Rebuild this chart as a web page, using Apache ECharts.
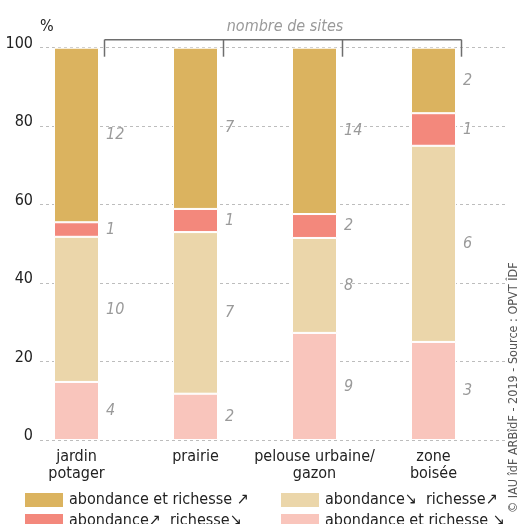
<!DOCTYPE html>
<html>
<head>
<meta charset="utf-8">
<script src="https://cdn.jsdelivr.net/npm/echarts@6/dist/echarts.min.js"></script>
<style>
html,body{margin:0;padding:0;background:#fff;}
#c{width:521px;height:524px;}
</style>
</head>
<body>
<div id="c"></div>
<script>
// categories
var categories = ['jardin\npotager', 'prairie', 'pelouse urbaine/\ngazon', 'zone\nboisée'];
var yTicks = [0, 20, 40, 60, 80, 100];

// series names (bottom to top of stack)
var nameBothDown = 'abondance et richesse \u2198';
var nameAbDownRichUp = 'abondance\u2198  richesse\u2197';
var nameAbUpRichDown = 'abondance\u2197  richesse\u2198';
var nameBothUp = 'abondance et richesse \u2197';

// percentage shares
var pctBothDown = [14.8, 11.8, 27.3, 25.0];
var pctAbDownRichUp = [37.0, 41.2, 24.2, 50.0];
var pctAbUpRichDown = [3.7, 5.9, 6.1, 8.3];
var pctBothUp = [44.5, 41.1, 42.4, 16.7];

// number of sites (labels)
var nBothDown = [4, 2, 9, 3];
var nAbDownRichUp = [10, 7, 8, 6];
var nAbUpRichDown = [1, 1, 2, 1];
var nBothUp = [12, 7, 14, 2];

var FONT = "'DejaVu Sans Condensed', 'Roboto', sans-serif";

var colors = {
  bothDown: '#F9C5BC',
  abDownRichUp: '#EBD6AA',
  abUpRichDown: '#F3887C',
  bothUp: '#DBB35F'
};

function mkSeries(name, data, counts, color) {
  return {
    name: name,
    type: 'bar',
    stack: 'all',
    xAxisIndex: 0,
    yAxisIndex: 0,
    barWidth: 45,
    data: data,
    itemStyle: { color: color, borderColor: '#ffffff', borderWidth: 1 },
    label: {
      show: true,
      position: 'right',
      distance: 7,
      formatter: function (p) { return String(counts[p.dataIndex]); },
      color: '#9a9a9a',
      fontStyle: 'italic',
      fontSize: 16,
      fontFamily: FONT
    },
    emphasis: { disabled: true },
    animation: false
  };
}

function mkLegend(name, left, top) {
  return {
    data: [name],
    orient: 'horizontal', left: left, top: top,
    padding: 0,
    itemWidth: 38, itemHeight: 14, itemGap: 0,
    icon: 'rect', selectedMode: false,
    itemStyle: { borderWidth: 0 },
    textStyle: { color: '#222', fontSize: 16, fontFamily: FONT, lineHeight: 14, padding: [0, 0, 0, 1] }
  };
}

var chart = echarts.init(document.getElementById('c'), null, { renderer: 'canvas' });

var option = {
  animation: false,
  backgroundColor: '#ffffff',
  textStyle: { fontFamily: FONT },
  grid: [
    { left: 17, width: 476, top: 47.7, bottom: 84, containLabel: false },
    { left: 40, right: 13, top: 47.7, bottom: 84, containLabel: false }
  ],
  xAxis: [
    {
      type: 'category', gridIndex: 0, data: categories,
      axisLine: { show: false }, axisTick: { show: false },
      axisLabel: { color: '#222', fontSize: 16, fontFamily: FONT, margin: 8, lineHeight: 17, interval: 0 }
    },
    { type: 'value', gridIndex: 1, show: false, min: 0, max: 1 }
  ],
  yAxis: [
    { type: 'value', gridIndex: 0, min: 0, max: 100, show: false, splitLine: { show: false } },
    {
      type: 'value', gridIndex: 1, min: 0, max: 100, interval: 20,
      name: '%', nameLocation: 'end', nameGap: 13,
      nameTextStyle: { color: '#222', fontSize: 16, fontFamily: FONT, align: 'left' },
      axisLine: { show: false }, axisTick: { show: false },
      axisLabel: {
        color: '#222', fontSize: 16, fontFamily: FONT, margin: 7,
        verticalAlign: 'bottom', lineHeight: 8,
        formatter: function (v) { return yTicks.indexOf(v) >= 0 ? String(v) : ''; }
      },
      splitLine: { show: true, lineStyle: { color: '#bdbdbd', type: [3, 3], width: 1 } }
    }
  ],
  legend: [
    mkLegend(nameBothUp, 25, 492),
    mkLegend(nameAbDownRichUp, 281, 492),
    mkLegend(nameAbUpRichDown, 25, 513),
    mkLegend(nameBothDown, 281, 513)
  ],
  series: [
    mkSeries(nameBothDown, pctBothDown, nBothDown, colors.bothDown),
    mkSeries(nameAbDownRichUp, pctAbDownRichUp, nAbDownRichUp, colors.abDownRichUp),
    mkSeries(nameAbUpRichDown, pctAbUpRichDown, nAbUpRichDown, colors.abUpRichDown),
    mkSeries(nameBothUp, pctBothUp, nBothUp, colors.bothUp),
    { type: 'line', xAxisIndex: 1, yAxisIndex: 1, data: [], silent: true }
  ]
};

chart.setOption(option);

// bracket "nombre de sites" positioned from the bar scale
var top100 = chart.convertToPixel({ gridIndex: 0 }, [0, 100])[1];
var bracketY = top100 - 8;
var tickBottom = top100 + 9;
var xs = categories.map(function (c, i) {
  return chart.convertToPixel({ gridIndex: 0 }, [i, 100])[0] + 22.5 + 5.5;
});
var els = [];
els.push({
  type: 'line', silent: true,
  shape: { x1: xs[0], y1: bracketY, x2: xs[xs.length - 1], y2: bracketY },
  style: { stroke: '#6e6e6e', lineWidth: 1.5 }
});
xs.forEach(function (x) {
  els.push({
    type: 'line', silent: true,
    shape: { x1: x, y1: bracketY, x2: x, y2: tickBottom },
    style: { stroke: '#6e6e6e', lineWidth: 1.5 }
  });
});
els.push({
  type: 'text', silent: true,
  x: (xs[0] + xs[xs.length - 1]) / 2 + 2, y: bracketY - 13,
  style: {
    text: 'nombre de sites', fill: '#9a9a9a', fontSize: 16, fontStyle: 'italic',
    fontFamily: FONT, align: 'center', verticalAlign: 'middle'
  }
});
els.push({
  type: 'text', silent: true,
  x: 514, y: 513, rotation: Math.PI / 2,
  style: {
    text: '\u00A9 IAU \u00EEdF ARB\u00EEdF - 2019 - Source : OPVT \u00CEDF',
    fill: '#555', fontSize: 12.5, fontFamily: FONT, align: 'left', verticalAlign: 'middle'
  }
});
chart.setOption({ graphic: { elements: els } });
</script>
</body>
</html>
